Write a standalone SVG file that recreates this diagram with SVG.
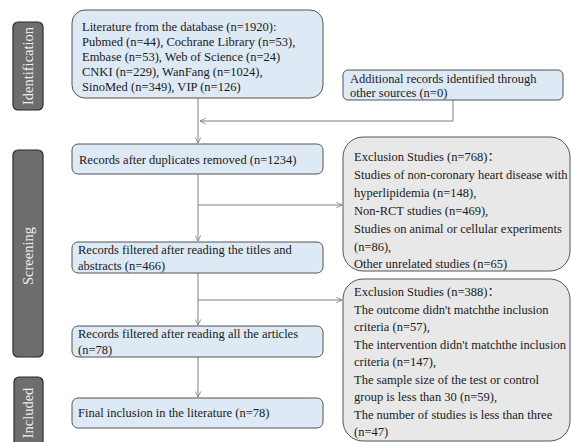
<svg xmlns="http://www.w3.org/2000/svg" width="571" height="442" viewBox="0 0 571 442">
<defs>
<style>
.bg{fill:#ffffff}
.box{fill:#dde9f4;stroke:#555555;stroke-width:1}
.ex{fill:#e8e8e8;stroke:#555555;stroke-width:1}
.lab{fill:#6d6d6d;stroke:#2a2a2a;stroke-width:1.2}
.t{font-family:"Liberation Serif","Noto Sans CJK SC",serif;font-size:12.5px;fill:#1a1a1a}
.lt{font-family:"Liberation Serif",serif;font-size:14.5px;fill:#eeeeee;text-anchor:middle}
.c{fill:none;stroke:#808080;stroke-width:1}
</style>
<marker id="ah" viewBox="0 0 10 10" refX="9" refY="5" markerWidth="7" markerHeight="7" orient="auto" markerUnits="userSpaceOnUse">
<path d="M1,1 L9,5 L1,9" fill="none" stroke="#808080" stroke-width="1.2"/>
</marker>
</defs>
<rect class="bg" x="0" y="0" width="571" height="442"/>

<g id="label-identification">
<rect class="lab" x="13" y="22" width="30" height="88" rx="5"/>
<text class="lt" transform="translate(33,66) rotate(-90)">Identification</text>
</g>
<g id="label-screening">
<rect class="lab" x="13" y="150" width="30" height="207" rx="5"/>
<text class="lt" transform="translate(33,256) rotate(-90)">Screening</text>
</g>
<g id="label-included">
<rect class="lab" x="14" y="377" width="29" height="80" rx="5"/>
<text class="lt" transform="translate(33,413) rotate(-90)">Included</text>
</g>

<g id="connectors">
<path class="c" d="M198,98 L198,143" marker-end="url(#ah)"/>
<path class="c" d="M453,100 L453,121 L200,121" marker-end="url(#ah)"/>
<path class="c" d="M198,174 L198,241" marker-end="url(#ah)"/>
<path class="c" d="M198,205 L342,205" marker-end="url(#ah)"/>
<path class="c" d="M198,273 L198,325" marker-end="url(#ah)"/>
<path class="c" d="M198,300 L342,300" marker-end="url(#ah)"/>
<path class="c" d="M198,357 L198,397" marker-end="url(#ah)"/>
</g>

<g id="node-database">
<rect class="box" x="72" y="10" width="251" height="88" rx="13"/>
<text class="t" x="82" y="30.5">Literature from the database (n=1920):</text>
<text class="t" x="82" y="46">Pubmed (n=44), Cochrane Library (n=53),</text>
<text class="t" x="82" y="61">Embase (n=53), Web of Science (n=24)</text>
<text class="t" x="82" y="76">CNKI (n=229), WanFang (n=1024),</text>
<text class="t" x="82" y="91">SinoMed (n=349), VIP (n=126)</text>
</g>

<g id="node-additional">
<rect class="box" x="343" y="70" width="220" height="30" rx="5"/>
<text class="t" x="350" y="83">Additional records identified through</text>
<text class="t" x="350" y="97">other sources (n=0)</text>
</g>

<g id="node-duplicates">
<rect class="box" x="72" y="144" width="251" height="30" rx="6"/>
<text class="t" x="79" y="164">Records after duplicates removed (n=1234)</text>
</g>

<g id="node-titles">
<rect class="box" x="72" y="242" width="251" height="31" rx="6"/>
<text class="t" x="78" y="254">Records filtered after reading the titles and</text>
<text class="t" x="78" y="270">abstracts (n=466)</text>
</g>

<g id="node-articles">
<rect class="box" x="72" y="326" width="251" height="31" rx="6"/>
<text class="t" x="78" y="338">Records filtered after reading all the articles</text>
<text class="t" x="78" y="354">(n=78)</text>
</g>

<g id="node-final">
<rect class="box" x="72" y="398" width="251" height="30" rx="6"/>
<text class="t" x="78" y="417">Final inclusion in the literature (n=78)</text>
</g>

<g id="node-exclusion1">
<rect class="ex" x="343" y="137" width="227" height="134" rx="20"/>
<text class="t" x="354" y="161">Exclusion Studies (n=768)：</text>
<text class="t" x="354" y="179">Studies of non-coronary heart disease with</text>
<text class="t" x="354" y="197">hyperlipidemia (n=148),</text>
<text class="t" x="354" y="215">Non-RCT studies (n=469),</text>
<text class="t" x="354" y="233">Studies on animal or cellular experiments</text>
<text class="t" x="354" y="251">(n=86),</text>
<text class="t" x="354" y="268">Other unrelated studies (n=65)</text>
</g>

<g id="node-exclusion2">
<rect class="ex" x="343" y="279" width="227" height="162" rx="20"/>
<text class="t" x="354" y="296">Exclusion Studies (n=388)：</text>
<text class="t" x="354" y="313.5">The outcome didn't matchthe inclusion</text>
<text class="t" x="354" y="331">criteria (n=57),</text>
<text class="t" x="354" y="348.5">The intervention didn't matchthe inclusion</text>
<text class="t" x="354" y="366">criteria (n=147),</text>
<text class="t" x="354" y="383.5">The sample size of the test or control</text>
<text class="t" x="354" y="401">group is less than 30 (n=59),</text>
<text class="t" x="354" y="418.5">The number of studies is less than three</text>
<text class="t" x="354" y="436">(n=47)</text>
</g>
</svg>
